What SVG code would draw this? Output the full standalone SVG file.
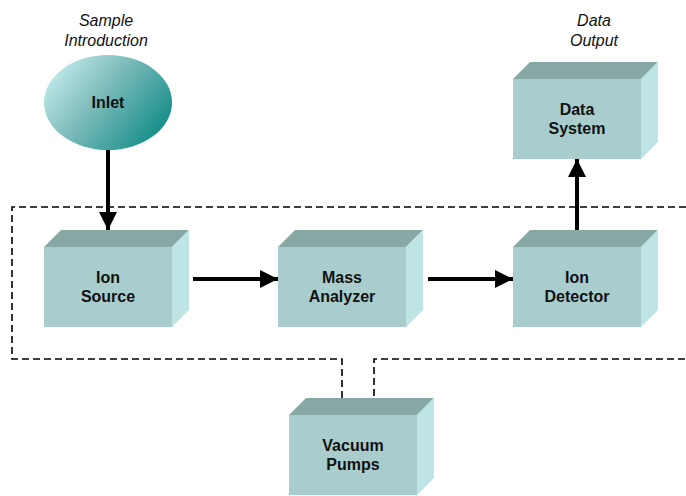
<svg xmlns="http://www.w3.org/2000/svg" width="686" height="496" viewBox="0 0 686 496">
  <style>
    .front { fill: #a9cdcd; }
    .top { fill: #88a8a6; }
    .side { fill: #bfe4e4; }
    .lbl { font-family: "Liberation Sans", Arial, sans-serif; font-size: 16px; font-weight: bold; fill: #111; text-anchor: middle; }
    .cap { font-family: "Liberation Sans", Arial, sans-serif; font-size: 16px; font-style: italic; fill: #111; text-anchor: middle; }
    .dash { fill: none; stroke: #000; stroke-width: 1.6; stroke-dasharray: 7 4; }
    .flow { fill: none; stroke: #000; stroke-width: 4; }
  </style>
  <defs>
    <linearGradient id="inletFill" x1="0" y1="0" x2="1" y2="0.6">
      <stop offset="0" stop-color="#d4f7f7"/>
      <stop offset="0.5" stop-color="#7fbcbc"/>
      <stop offset="1" stop-color="#1c918c"/>
    </linearGradient>
    <marker id="head" markerWidth="5" markerHeight="5" refX="4.5" refY="2.25" orient="auto" markerUnits="strokeWidth">
      <path d="M0,0 L4.5,2.25 L0,4.5 Z" fill="#000"/>
    </marker>
    <g id="box">
      <polygon class="top" points="0,17 17,0 145,0 128,17"/>
      <polygon class="side" points="128,17 145,0 145,80 128,97"/>
      <rect class="front" x="0" y="17" width="128" height="80"/>
    </g>
  </defs>

  <!-- vacuum enclosure boundary -->
  <g id="vacuum-region">
    <path class="dash" d="M686,207 H12 V359 H342 V407"/>
    <path class="dash" d="M374,407 V359 H686"/>
  </g>

  <!-- captions -->
  <text class="cap" x="106" y="26">Sample</text>
  <text class="cap" x="106" y="46">Introduction</text>
  <text class="cap" x="594" y="26">Data</text>
  <text class="cap" x="594" y="46">Output</text>

  <g id="inlet">
    <ellipse cx="108" cy="102.5" rx="64" ry="47.5" fill="url(#inletFill)"/>
    <text class="lbl" x="108" y="108">Inlet</text>
  </g>

  <g id="ion-source">
    <use href="#box" x="44" y="230"/>
    <text class="lbl" x="108" y="283">Ion</text>
    <text class="lbl" x="108" y="302">Source</text>
  </g>

  <g id="mass-analyzer">
    <use href="#box" x="278" y="230"/>
    <text class="lbl" x="342" y="283">Mass</text>
    <text class="lbl" x="342" y="302">Analyzer</text>
  </g>

  <g id="ion-detector">
    <use href="#box" x="513" y="230"/>
    <text class="lbl" x="577" y="283">Ion</text>
    <text class="lbl" x="577" y="302">Detector</text>
  </g>

  <g id="data-system">
    <use href="#box" x="513" y="62"/>
    <text class="lbl" x="577" y="115">Data</text>
    <text class="lbl" x="577" y="134">System</text>
  </g>

  <g id="vacuum-pumps">
    <use href="#box" x="289" y="398"/>
    <text class="lbl" x="353" y="451">Vacuum</text>
    <text class="lbl" x="353" y="470">Pumps</text>
  </g>

  <!-- signal flow -->
  <g id="connectors">
    <line class="flow" x1="108" y1="150" x2="108" y2="230" marker-end="url(#head)"/>
    <line class="flow" x1="193" y1="279" x2="278" y2="279" marker-end="url(#head)"/>
    <line class="flow" x1="428" y1="279" x2="513" y2="279" marker-end="url(#head)"/>
    <line class="flow" x1="577" y1="230" x2="577" y2="159" marker-end="url(#head)"/>
  </g>
</svg>
